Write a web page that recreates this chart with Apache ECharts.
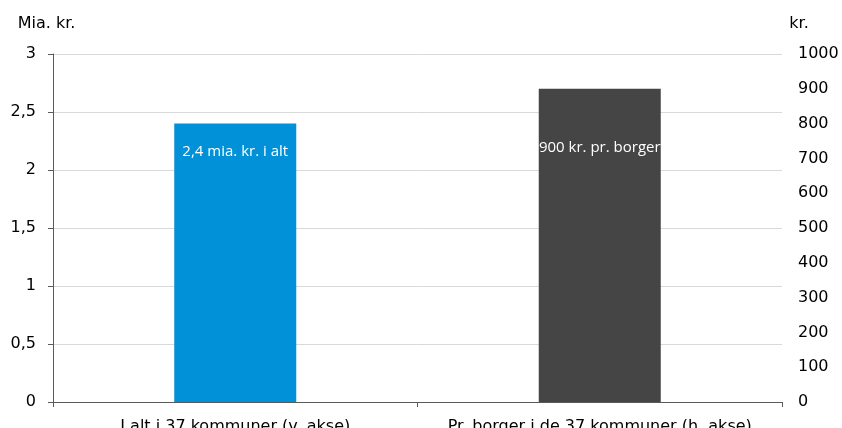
<!DOCTYPE html>
<html>
<head>
<meta charset="utf-8">
<script src="https://cdn.jsdelivr.net/npm/echarts@6/dist/echarts.min.js"></script>
<style>html,body{margin:0;padding:0;background:#fff}#c{width:842px;height:428px}</style>
</head>
<body>
<div id="c"></div>
<script>
var categories = ['I alt i 37 kommuner (v. akse)', 'Pr. borger i de 37 kommuner (h. akse)'];
var totalValues = [2.4, '-'];
var perCitizenValues = ['-', 900];
var barLabels = ['2,4 mia. kr. i alt', '900 kr. pr. borger'];
var leftAxisName = 'Mia. kr.';
var rightAxisName = 'kr.';

var chart = echarts.init(document.getElementById('c'), null, {renderer: 'canvas'});
var axisFont = {fontFamily: 'DejaVu Sans', fontSize: 16, color: '#000'};
chart.setOption({
  animation: false,
  grid: {left: 53, right: 60, top: 54, bottom: 26, containLabel: false, outerBoundsMode: 'none'},
  xAxis: {
    type: 'category',
    data: categories,
    axisLine: {lineStyle: {color: '#5a5a5a', width: 1}},
    axisTick: {show: true, length: 5, lineStyle: {color: '#5a5a5a'}},
    axisLabel: Object.assign({margin: 17, interval: 0}, axisFont)
  },
  yAxis: [{
    type: 'value', min: 0, max: 3, interval: 0.5,
    name: leftAxisName, nameLocation: 'end', nameGap: 30,
    nameTextStyle: Object.assign({align: 'center', verticalAlign: 'middle', padding: [0, 13, 0, 0]}, axisFont),
    axisLine: {show: true, lineStyle: {color: '#5a5a5a'}},
    axisTick: {show: true, length: 5, lineStyle: {color: '#5a5a5a'}},
    axisLabel: Object.assign({margin: 17, formatter: function (v) { return String(v).replace('.', ','); }}, axisFont),
    splitLine: {lineStyle: {color: '#d9d9d9'}}
  }, {
    type: 'value', min: 0, max: 1000, interval: 100,
    name: rightAxisName, nameLocation: 'end', nameGap: 30,
    nameTextStyle: Object.assign({align: 'center', verticalAlign: 'middle', padding: [0, 0, 0, 34]}, axisFont),
    axisLine: {show: false},
    axisTick: {show: false},
    axisLabel: Object.assign({margin: 16, formatter: function (v) { return String(v); }}, axisFont),
    splitLine: {show: false}
  }],
  series: [{
    type: 'bar', yAxisIndex: 0, data: totalValues, barWidth: 122, barGap: '-100%',
    itemStyle: {color: '#0091d9'},
    label: {show: true, position: ['50%', 28], align: 'center', verticalAlign: 'middle',
      formatter: function () { return barLabels[0]; },
      fontFamily: 'Open Sans', fontSize: 15, color: '#fff'}
  }, {
    type: 'bar', yAxisIndex: 1, data: perCitizenValues, barWidth: 122, barGap: '-100%',
    itemStyle: {color: '#454545'},
    label: {show: true, position: ['50%', 59], align: 'center', verticalAlign: 'middle',
      formatter: function () { return barLabels[1]; },
      fontFamily: 'Open Sans', fontSize: 15, color: '#fff'}
  }]
});
</script>
</body>
</html>
